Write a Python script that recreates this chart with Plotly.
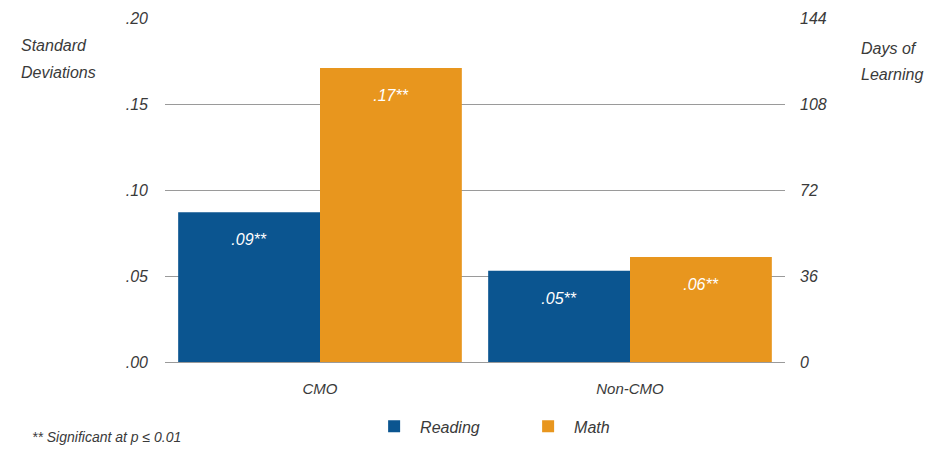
import plotly.graph_objects as go

categories = ["CMO", "Non-CMO"]
reading = [0.087, 0.053]
math_vals = [0.171, 0.061]
reading_labels = [".09**", ".05**"]
math_labels = [".17**", ".06**"]
left_ticks = [0, 0.05, 0.10, 0.15, 0.20]
left_tick_text = [".00", ".05", ".10", ".15", ".20"]
right_ticks = [0, 36, 72, 108, 144]

FONT = "Liberation Sans, Arial, sans-serif"
TXT = "#3a3a3a"

def it(s):
    return f"<i>{s}</i>"

def lbl(s):
    return f"<i><span style='font-size:10px'>&nbsp;</span><br>{s}</i>"

fig = go.Figure()
fig.add_trace(go.Bar(
    x=categories, y=reading, name=it("Reading"),
    marker=dict(color="#0b5590", line=dict(width=0)),
    text=[lbl(t) for t in reading_labels], textposition="inside", insidetextanchor="end",
    textfont=dict(color="white", size=16, family=FONT),
))
fig.add_trace(go.Bar(
    x=categories, y=math_vals, name=it("Math"),
    marker=dict(color="#e8961e", line=dict(width=0)),
    text=[lbl(t) for t in math_labels], textposition="inside", insidetextanchor="end",
    textfont=dict(color="white", size=16, family=FONT),
))
# invisible trace for right axis
fig.add_trace(go.Scatter(x=categories, y=[0, 0], yaxis="y2", mode="markers",
                         marker=dict(opacity=0), showlegend=False, hoverinfo="skip"))

fig.update_layout(
    width=936, height=444,
    margin=dict(l=157, r=159, t=10, b=90, autoexpand=False),
    paper_bgcolor="white", plot_bgcolor="white",
    barmode="group", bargap=0.085, bargroupgap=0,
    font=dict(family=FONT, color=TXT, size=15),
    xaxis=dict(showgrid=False, showline=False, ticks="", ticklabelstandoff=16,
               tickvals=categories, ticktext=[it(c) for c in categories],
               tickfont=dict(size=15, color=TXT, family=FONT)),
    yaxis=dict(range=[0, 0.2], tickvals=left_ticks, ticktext=[it(t) for t in left_tick_text],
               showgrid=True, gridcolor="#9a9a9a", gridwidth=1, zeroline=True,
               zerolinecolor="#9a9a9a", zerolinewidth=1, showline=False,
               ticklabelstandoff=16, tickfont=dict(size=16, color=TXT, family=FONT)),
    yaxis2=dict(range=[0, 144], tickvals=right_ticks, ticktext=[it(t) for t in right_ticks],
                overlaying="y", side="right",
                showgrid=False, zeroline=False, showline=False, ticklabelstandoff=14,
                tickfont=dict(size=16, color=TXT, family=FONT)),
    legend=dict(orientation="h", x=0.576, xanchor="center", y=-0.138, yanchor="top",
                entrywidth=97, itemwidth=42, font=dict(size=16, color=TXT, family=FONT),
                itemclick=False),
    showlegend=True,
)

def side_label(x, y, s):
    fig.add_annotation(xref="paper", yref="paper", x=x, y=y, xanchor="left", yanchor="middle",
                       text=it(s), showarrow=False, align="left",
                       font=dict(size=16, color=TXT, family=FONT))

side_label(-0.235, 1 - (45 - 18) / 344, "Standard")
side_label(-0.235, 1 - (72 - 18) / 344, "Deviations")
side_label(1.12, 1 - (48 - 18) / 344, "Days of")
side_label(1.12, 1 - (74 - 18) / 344, "Learning")

fig.add_annotation(xref="paper", yref="paper", x=-0.218, y=-0.218, xanchor="left", yanchor="middle",
                   text="<i>** Significant at p ≤ 0.01</i>", showarrow=False, align="left",
                   font=dict(size=14, color=TXT, family=FONT))

fig.write_html("out.html")
